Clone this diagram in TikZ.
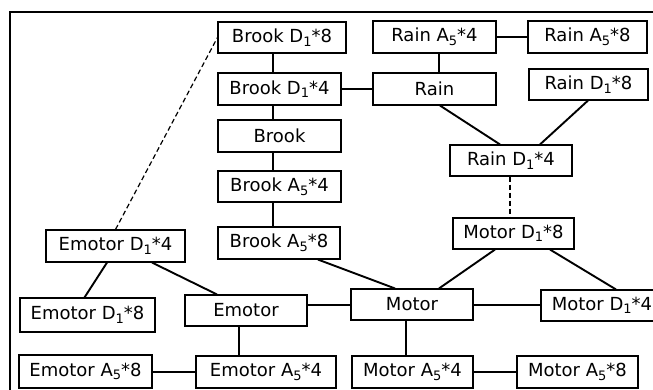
\documentclass[tikz,border=0pt]{standalone}
\usepackage{fontspec}
\setmainfont{DejaVu Sans}
% \bx{name}{left}{top}{right}{bottom}{text}: a framed label given by its edges
\newcommand\bx[6]{%
  \node[box, minimum width={#4pt-#2pt}, minimum height={#5pt-#3pt}]
    (#1) at ({(#2+#4)/2},{(#3+#5)/2}) {#6};}
% index digit, set a little below the baseline
\newcommand\sub[1]{\raisebox{-0.2em}{\fontsize{13}{13}\selectfont #1}}
\begin{document}
\begin{tikzpicture}[x=1pt,y=-1pt,
  box/.style={draw, line width=1.1pt, inner sep=0pt, fill=white,
    font=\fontsize{18}{20}\selectfont},
  link/.style={line width=1.9pt},
  dlink/.style={line width=1.2pt, dash pattern=on 5pt off 3pt}]
\useasboundingbox (0,0) rectangle (653,389);
% outer frame
\draw[line width=1.8pt] (10,460) |- (720,12);

% Brook column
\bx{bd8}{218}{22}{346}{53}{Brook D\sub{1}*8}
\bx{bd4}{218}{73}{341}{105}{Brook D\sub{1}*4}
\bx{br}{218}{120}{341}{152}{Brook}
\bx{ba4}{218}{171}{341}{202}{Brook A\sub{5}*4}
\bx{ba8}{218}{227}{340}{259}{Brook A\sub{5}*8}
% Rain group
\bx{ra4}{373}{21}{496}{53}{Rain A\sub{5}*4}
\bx{ra8}{528}{21}{647}{53}{Rain A\sub{5}*8}
\bx{rn}{373}{73}{496}{105}{Rain}
\bx{rd8}{529}{69}{648}{100}{Rain D\sub{1}*8}
\bx{rd4}{450}{145}{572}{176}{Rain D\sub{1}*4}
% Motor group
\bx{md8}{453}{218}{574}{249}{Motor D\sub{1}*8}
\bx{mo}{351}{289}{473}{320}{Motor}
\bx{md4}{541}{290}{663}{321}{Motor D\sub{1}*4}
\bx{ma4}{352}{356}{473}{388}{Motor A\sub{5}*4}
\bx{ma8}{517}{356}{638}{388}{Motor A\sub{5}*8}
% Emotor group
\bx{ed4}{46}{230}{185}{262}{Emotor D\sub{1}*4}
\bx{ed8}{20}{298}{155}{332}{Emotor D\sub{1}*8}
\bx{em}{185}{295}{307}{326}{Emotor}
\bx{ea8}{19}{355}{152}{388}{Emotor A\sub{5}*8}
\bx{ea4}{196}{356}{336}{388}{Emotor A\sub{5}*4}

% vertical guides for straight connectors
\coordinate (xb) at (273,0);
\coordinate (xr) at (439,0);
\coordinate (xm) at (406,0);
\coordinate (xe) at (239,0);
\coordinate (xd) at (510,0);
\coordinate (ym) at (0,305);

\begin{scope}[link]
  \draw (bd8.south -| xb) -- (bd4.north -| xb);
  \draw (bd4.south -| xb) -- (br.north -| xb);
  \draw (br.south -| xb) -- (ba4.north -| xb);
  \draw (ba4.south -| xb) -- (ba8.north -| xb);
  \draw (bd4.east) -- (rn.west);
  \draw (ra4.south -| xr) -- (rn.north -| xr);
  \draw (ra4.east) -- (ra8.west);
  \draw ([xshift=5.5pt]rn.south) -- ([xshift=-11pt]rd4.north);
  \draw ([xshift=-0.5pt]rd8.south) -- ([xshift=29pt]rd4.north);
  \draw ([xshift=-18.5pt]md8.south) -- ([xshift=27pt]mo.north);
  \draw ([xshift=36.5pt]md8.south) -- ([xshift=14pt]md4.north);
  \draw ([xshift=39pt]ba8.south) -- ([xshift=-17pt]mo.north);
  \draw (em.east |- ym) -- (mo.west |- ym);
  \draw (mo.east |- ym) -- (md4.west |- ym);
  \draw (mo.south -| xm) -- (ma4.north -| xm);
  \draw (ma4.east |- ma8.west) -- (ma8.west);
  \draw ([xshift=-8.5pt]ed4.south) -- ([xshift=-3pt]ed8.north);
  \draw ([xshift=36.5pt]ed4.south) -- ([xshift=-29pt]em.north);
  \draw (em.south -| xe) -- (ea4.north -| xe);
  \draw (ea8.east |- ea4.west) -- (ea4.west);
\end{scope}
\draw[dlink] (rd4.south -| xd) -- (md8.north -| xd);
\draw[dlink] (ed4.north) -- (bd8.west);
\end{tikzpicture}
\end{document}
